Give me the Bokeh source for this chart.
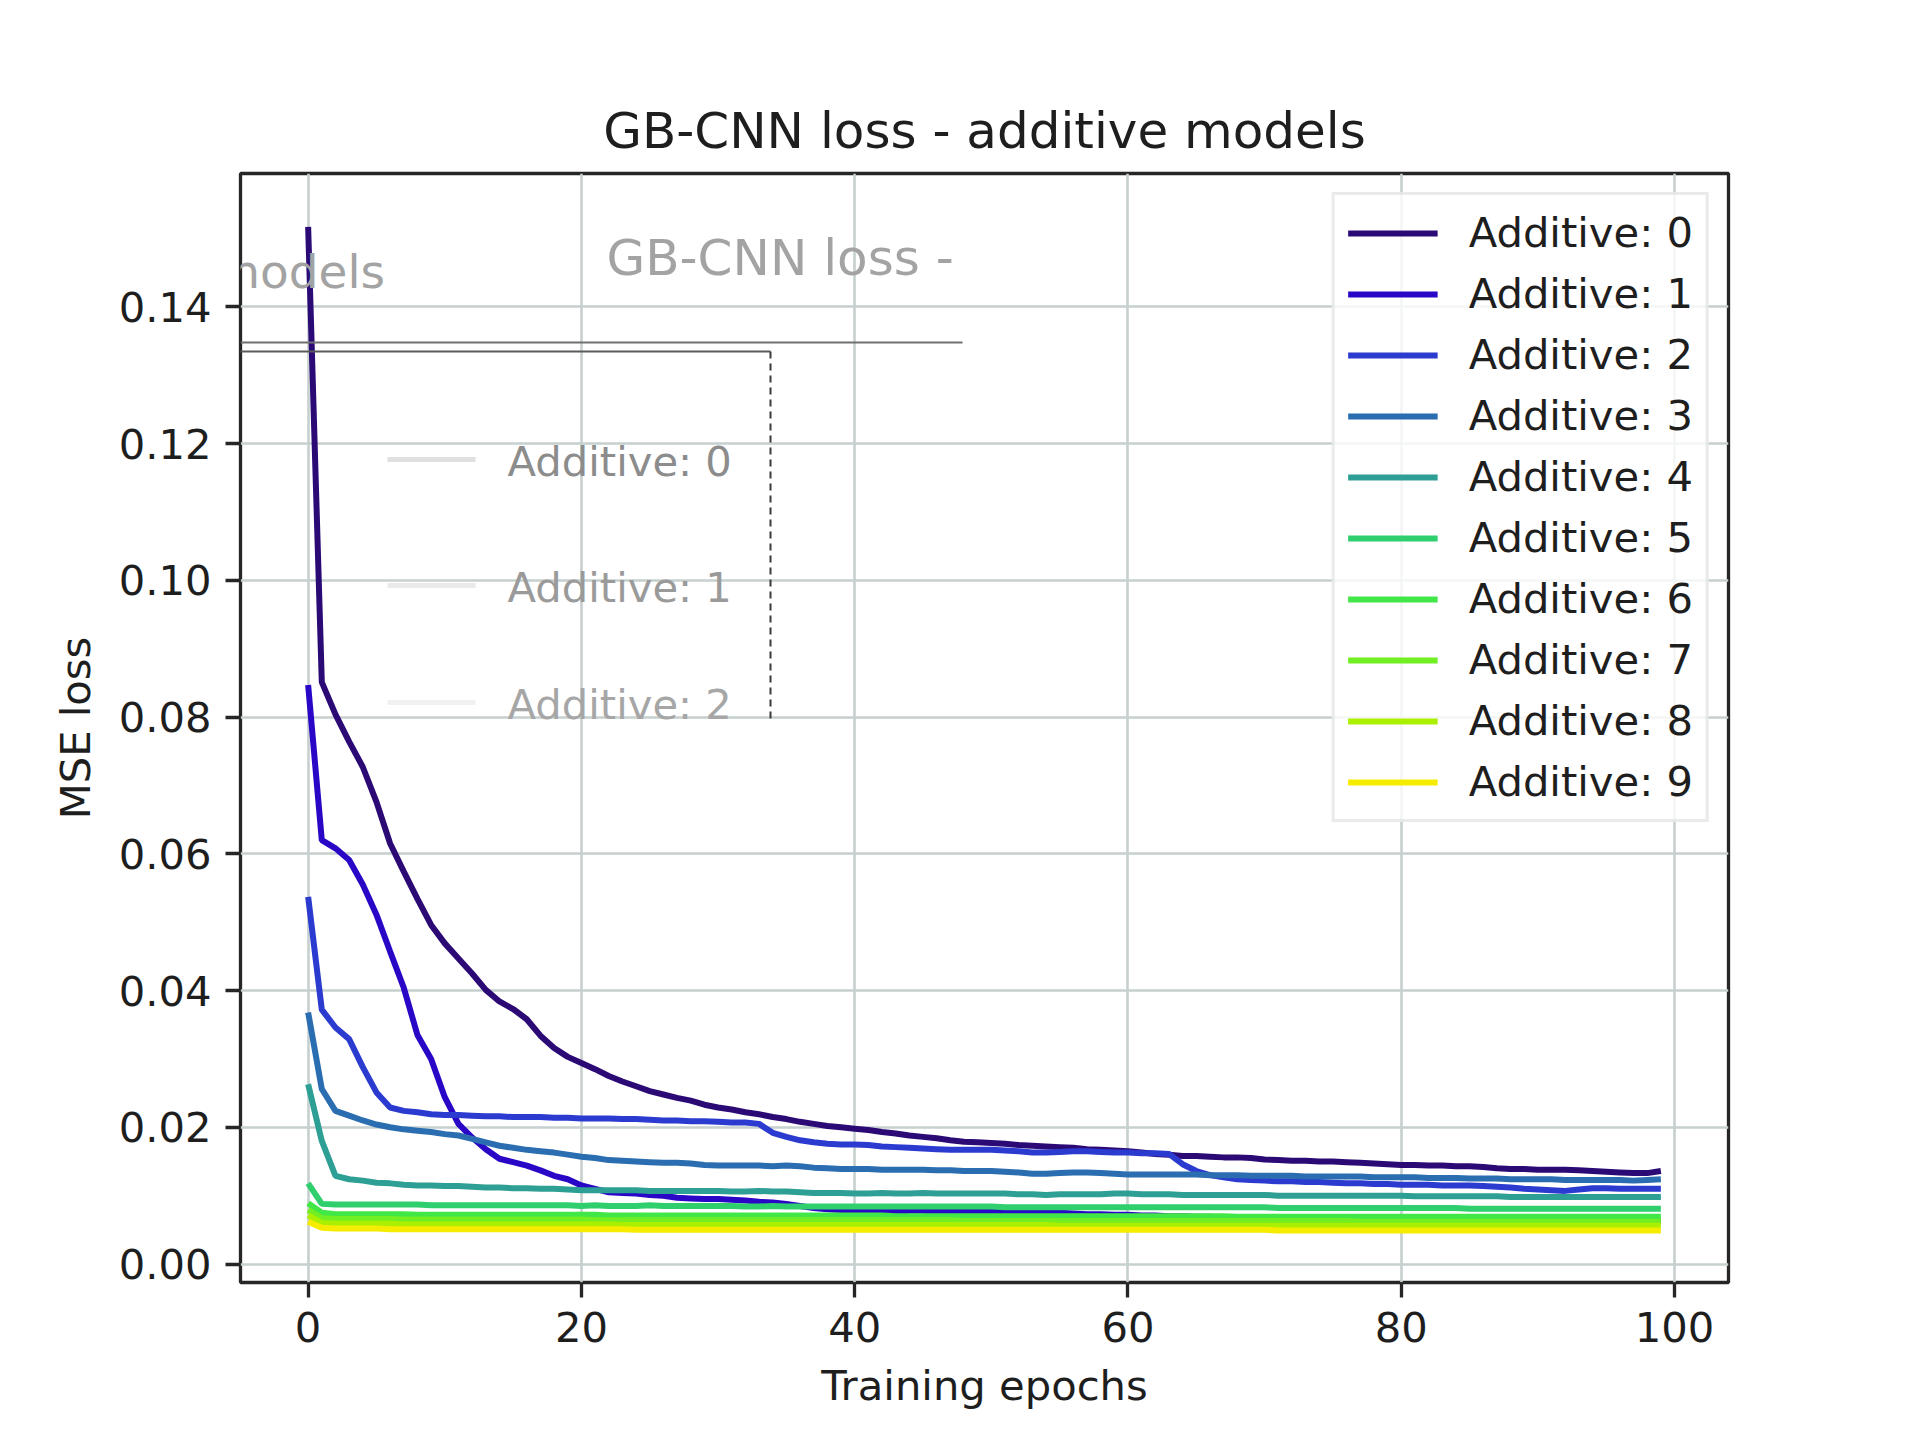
from bokeh.plotting import figure
from bokeh.models import Range1d, Label, Arrow, FixedTicker, PrintfTickFormatter
from bokeh.embed import file_html
from bokeh.resources import INLINE

# ---------------- data ----------------
epochs = list(range(100))

loss_0 = [0.1517, 0.0851, 0.0804, 0.0764, 0.0727, 0.0676, 0.0615, 0.0574, 0.0534, 0.0496,
          0.0469, 0.0447, 0.0425, 0.0401, 0.0384, 0.0373, 0.0358, 0.0334, 0.0316, 0.0303,
          0.0294, 0.0285, 0.0275, 0.0267, 0.0260, 0.0253, 0.0248, 0.0243, 0.0239, 0.0233,
          0.0229, 0.0226, 0.0222, 0.0219, 0.0215, 0.0212, 0.0208, 0.0205, 0.0202, 0.0200,
          0.0198, 0.0196, 0.0193, 0.0191, 0.0188, 0.0186, 0.0184, 0.0181, 0.0179, 0.0178,
          0.0177, 0.0176, 0.0174, 0.0173, 0.0172, 0.0171, 0.0170, 0.0168, 0.0167, 0.0166,
          0.0165, 0.0163, 0.0161, 0.0160, 0.0158, 0.0158, 0.0157, 0.0156, 0.0156, 0.0155,
          0.0153, 0.0152, 0.0151, 0.0151, 0.0150, 0.0150, 0.0149, 0.0148, 0.0147, 0.0146,
          0.0145, 0.0145, 0.0144, 0.0144, 0.0143, 0.0143, 0.0142, 0.0140, 0.0139, 0.0139,
          0.0138, 0.0138, 0.0138, 0.0137, 0.0136, 0.0135, 0.0134, 0.0133, 0.0133, 0.0136]

loss_1 = [0.0847, 0.0620, 0.0608, 0.0591, 0.0555, 0.0511, 0.0457, 0.0404, 0.0335, 0.0300,
          0.0244, 0.0205, 0.0185, 0.0168, 0.0154, 0.0149, 0.0144, 0.0137, 0.0129, 0.0124,
          0.0115, 0.0110, 0.0105, 0.0104, 0.0103, 0.0101, 0.0100, 0.0097, 0.0096, 0.0095,
          0.0095, 0.0094, 0.0093, 0.0091, 0.0090, 0.0088, 0.0085, 0.0082, 0.0080, 0.0079,
          0.0078, 0.0078, 0.0078, 0.0077, 0.0078, 0.0078, 0.0077, 0.0077, 0.0078, 0.0077,
          0.0077, 0.0076, 0.0076, 0.0076, 0.0075, 0.0075, 0.0074, 0.0073, 0.0073, 0.0072,
          0.0072, 0.0071, 0.0071, 0.0070, 0.0070, 0.0069, 0.0069, 0.0068, 0.0068, 0.0067,
          0.0066, 0.0066, 0.0066, 0.0067, 0.0066, 0.0066, 0.0065, 0.0066, 0.0066, 0.0065,
          0.0065, 0.0065, 0.0065, 0.0066, 0.0066, 0.0065, 0.0066, 0.0066, 0.0065, 0.0065,
          0.0064, 0.0064, 0.0064, 0.0064, 0.0063, 0.0064, 0.0064, 0.0063, 0.0063, 0.0063]

loss_2 = [0.0537, 0.0372, 0.0346, 0.0329, 0.0288, 0.0251, 0.0229, 0.0224, 0.0222, 0.0219,
          0.0218, 0.0218, 0.0217, 0.0216, 0.0216, 0.0215, 0.0215, 0.0215, 0.0214, 0.0214,
          0.0213, 0.0213, 0.0213, 0.0212, 0.0212, 0.0211, 0.0210, 0.0210, 0.0209, 0.0209,
          0.0208, 0.0207, 0.0207, 0.0205, 0.0192, 0.0186, 0.0181, 0.0178, 0.0176, 0.0175,
          0.0175, 0.0174, 0.0172, 0.0171, 0.0170, 0.0169, 0.0168, 0.0167, 0.0167, 0.0167,
          0.0167, 0.0166, 0.0165, 0.0163, 0.0163, 0.0164, 0.0165, 0.0165, 0.0164, 0.0163,
          0.0163, 0.0162, 0.0162, 0.0161, 0.0146, 0.0136, 0.0130, 0.0127, 0.0124, 0.0123,
          0.0122, 0.0121, 0.0121, 0.0120, 0.0120, 0.0119, 0.0118, 0.0118, 0.0117, 0.0117,
          0.0116, 0.0116, 0.0116, 0.0115, 0.0115, 0.0115, 0.0114, 0.0113, 0.0112, 0.0110,
          0.0109, 0.0108, 0.0107, 0.0109, 0.0111, 0.0111, 0.0110, 0.0110, 0.0110, 0.0110]

loss_3 = [0.0368, 0.0256, 0.0224, 0.0217, 0.0210, 0.0204, 0.0200, 0.0197, 0.0195, 0.0193,
          0.0190, 0.0188, 0.0183, 0.0178, 0.0173, 0.0170, 0.0167, 0.0165, 0.0163, 0.0160,
          0.0157, 0.0155, 0.0152, 0.0151, 0.0150, 0.0149, 0.0148, 0.0148, 0.0147, 0.0145,
          0.0144, 0.0144, 0.0144, 0.0144, 0.0143, 0.0144, 0.0143, 0.0141, 0.0140, 0.0139,
          0.0139, 0.0139, 0.0138, 0.0138, 0.0138, 0.0138, 0.0137, 0.0137, 0.0136, 0.0136,
          0.0136, 0.0135, 0.0134, 0.0132, 0.0132, 0.0133, 0.0134, 0.0134, 0.0133, 0.0132,
          0.0131, 0.0131, 0.0131, 0.0131, 0.0131, 0.0131, 0.0130, 0.0130, 0.0130, 0.0129,
          0.0129, 0.0129, 0.0129, 0.0128, 0.0128, 0.0128, 0.0128, 0.0128, 0.0127, 0.0127,
          0.0127, 0.0127, 0.0126, 0.0126, 0.0126, 0.0125, 0.0125, 0.0125, 0.0124, 0.0124,
          0.0124, 0.0124, 0.0123, 0.0123, 0.0123, 0.0123, 0.0123, 0.0122, 0.0123, 0.0124]

loss_4 = [0.0263, 0.0180, 0.0129, 0.0124, 0.0122, 0.0119, 0.0118, 0.0116, 0.0115, 0.0115,
          0.0114, 0.0114, 0.0113, 0.0112, 0.0112, 0.0111, 0.0111, 0.0110, 0.0110, 0.0109,
          0.0108, 0.0108, 0.0108, 0.0108, 0.0108, 0.0107, 0.0107, 0.0107, 0.0107, 0.0107,
          0.0107, 0.0106, 0.0106, 0.0107, 0.0106, 0.0106, 0.0105, 0.0104, 0.0104, 0.0104,
          0.0103, 0.0103, 0.0104, 0.0103, 0.0103, 0.0104, 0.0103, 0.0103, 0.0103, 0.0103,
          0.0103, 0.0103, 0.0102, 0.0102, 0.0101, 0.0102, 0.0102, 0.0102, 0.0102, 0.0103,
          0.0103, 0.0102, 0.0102, 0.0102, 0.0101, 0.0101, 0.0101, 0.0101, 0.0101, 0.0101,
          0.0101, 0.0100, 0.0100, 0.0100, 0.0100, 0.0100, 0.0100, 0.0100, 0.0100, 0.0100,
          0.0100, 0.0099, 0.0099, 0.0099, 0.0099, 0.0099, 0.0099, 0.0099, 0.0098, 0.0098,
          0.0098, 0.0098, 0.0098, 0.0098, 0.0098, 0.0098, 0.0098, 0.0098, 0.0098, 0.0098]

loss_5 = [0.0118, 0.0088, 0.0087, 0.0087, 0.0087, 0.0087, 0.0087, 0.0087, 0.0087, 0.0086,
          0.0086, 0.0086, 0.0086, 0.0086, 0.0086, 0.0086, 0.0086, 0.0086, 0.0086, 0.0086,
          0.0085, 0.0086, 0.0085, 0.0085, 0.0085, 0.0086, 0.0085, 0.0085, 0.0085, 0.0085,
          0.0085, 0.0085, 0.0084, 0.0084, 0.0085, 0.0084, 0.0084, 0.0084, 0.0084, 0.0084,
          0.0084, 0.0084, 0.0084, 0.0084, 0.0084, 0.0084, 0.0084, 0.0084, 0.0084, 0.0084,
          0.0084, 0.0083, 0.0083, 0.0083, 0.0083, 0.0083, 0.0083, 0.0083, 0.0083, 0.0083,
          0.0083, 0.0083, 0.0083, 0.0083, 0.0083, 0.0083, 0.0083, 0.0083, 0.0083, 0.0083,
          0.0083, 0.0082, 0.0082, 0.0082, 0.0082, 0.0082, 0.0082, 0.0082, 0.0082, 0.0082,
          0.0082, 0.0082, 0.0082, 0.0082, 0.0082, 0.0081, 0.0081, 0.0081, 0.0081, 0.0081,
          0.0081, 0.0081, 0.0081, 0.0081, 0.0081, 0.0081, 0.0081, 0.0081, 0.0081, 0.0081]

loss_6 = [0.0089, 0.0075, 0.0073, 0.0073, 0.0073, 0.0073, 0.0073, 0.0073, 0.0072, 0.0072,
          0.0072, 0.0072, 0.0072, 0.0072, 0.0072, 0.0072, 0.0072, 0.0072, 0.0072, 0.0072,
          0.0072, 0.0072, 0.0071, 0.0071, 0.0071, 0.0071, 0.0071, 0.0071, 0.0071, 0.0071,
          0.0071, 0.0071, 0.0071, 0.0071, 0.0071, 0.0071, 0.0071, 0.0071, 0.0071, 0.0071,
          0.0071, 0.0071, 0.0071, 0.0070, 0.0070, 0.0070, 0.0070, 0.0070, 0.0070, 0.0070,
          0.0070, 0.0070, 0.0070, 0.0070, 0.0070, 0.0070, 0.0070, 0.0070, 0.0070, 0.0070,
          0.0070, 0.0070, 0.0070, 0.0070, 0.0070, 0.0070, 0.0070, 0.0070, 0.0069, 0.0069,
          0.0069, 0.0069, 0.0069, 0.0069, 0.0069, 0.0069, 0.0069, 0.0069, 0.0069, 0.0069,
          0.0069, 0.0069, 0.0069, 0.0069, 0.0069, 0.0069, 0.0069, 0.0069, 0.0069, 0.0069,
          0.0069, 0.0069, 0.0069, 0.0069, 0.0069, 0.0069, 0.0069, 0.0069, 0.0069, 0.0069]

loss_7 = [0.0079, 0.0067, 0.0066, 0.0066, 0.0066, 0.0066, 0.0066, 0.0065, 0.0065, 0.0065,
          0.0065, 0.0065, 0.0065, 0.0065, 0.0065, 0.0065, 0.0065, 0.0065, 0.0065, 0.0065,
          0.0065, 0.0064, 0.0064, 0.0064, 0.0064, 0.0064, 0.0064, 0.0064, 0.0064, 0.0064,
          0.0064, 0.0064, 0.0064, 0.0064, 0.0064, 0.0064, 0.0064, 0.0064, 0.0064, 0.0064,
          0.0064, 0.0064, 0.0064, 0.0064, 0.0064, 0.0064, 0.0064, 0.0064, 0.0063, 0.0063,
          0.0063, 0.0063, 0.0063, 0.0063, 0.0063, 0.0063, 0.0063, 0.0063, 0.0063, 0.0063,
          0.0063, 0.0063, 0.0063, 0.0063, 0.0063, 0.0063, 0.0063, 0.0063, 0.0063, 0.0063,
          0.0063, 0.0063, 0.0063, 0.0063, 0.0063, 0.0063, 0.0063, 0.0062, 0.0062, 0.0062,
          0.0062, 0.0062, 0.0062, 0.0062, 0.0062, 0.0062, 0.0062, 0.0062, 0.0062, 0.0062,
          0.0062, 0.0062, 0.0062, 0.0062, 0.0062, 0.0062, 0.0062, 0.0062, 0.0062, 0.0062]

loss_8 = [0.0071, 0.0060, 0.0059, 0.0059, 0.0059, 0.0059, 0.0059, 0.0058, 0.0058, 0.0058,
          0.0058, 0.0058, 0.0058, 0.0058, 0.0058, 0.0058, 0.0058, 0.0058, 0.0058, 0.0058,
          0.0058, 0.0058, 0.0058, 0.0057, 0.0057, 0.0057, 0.0057, 0.0057, 0.0057, 0.0057,
          0.0057, 0.0057, 0.0057, 0.0057, 0.0057, 0.0057, 0.0057, 0.0057, 0.0057, 0.0057,
          0.0057, 0.0057, 0.0057, 0.0057, 0.0057, 0.0057, 0.0057, 0.0057, 0.0057, 0.0057,
          0.0057, 0.0057, 0.0057, 0.0057, 0.0057, 0.0056, 0.0056, 0.0056, 0.0056, 0.0056,
          0.0056, 0.0056, 0.0056, 0.0056, 0.0056, 0.0056, 0.0056, 0.0056, 0.0056, 0.0056,
          0.0056, 0.0056, 0.0056, 0.0056, 0.0056, 0.0056, 0.0056, 0.0056, 0.0056, 0.0056,
          0.0056, 0.0056, 0.0056, 0.0056, 0.0056, 0.0056, 0.0056, 0.0056, 0.0056, 0.0056,
          0.0056, 0.0056, 0.0056, 0.0056, 0.0056, 0.0056, 0.0056, 0.0056, 0.0056, 0.0056]

loss_9 = [0.0062, 0.0053, 0.0052, 0.0052, 0.0052, 0.0052, 0.0051, 0.0051, 0.0051, 0.0051,
          0.0051, 0.0051, 0.0051, 0.0051, 0.0051, 0.0051, 0.0051, 0.0051, 0.0051, 0.0051,
          0.0051, 0.0051, 0.0051, 0.0051, 0.0050, 0.0050, 0.0050, 0.0050, 0.0050, 0.0050,
          0.0050, 0.0050, 0.0050, 0.0050, 0.0050, 0.0050, 0.0050, 0.0050, 0.0050, 0.0050,
          0.0050, 0.0050, 0.0050, 0.0050, 0.0050, 0.0050, 0.0050, 0.0050, 0.0050, 0.0050,
          0.0050, 0.0050, 0.0050, 0.0050, 0.0050, 0.0050, 0.0050, 0.0050, 0.0050, 0.0050,
          0.0050, 0.0050, 0.0050, 0.0050, 0.0050, 0.0050, 0.0050, 0.0050, 0.0050, 0.0050,
          0.0050, 0.0049, 0.0049, 0.0049, 0.0049, 0.0049, 0.0049, 0.0049, 0.0049, 0.0049,
          0.0049, 0.0049, 0.0049, 0.0049, 0.0049, 0.0049, 0.0049, 0.0049, 0.0049, 0.0049,
          0.0049, 0.0049, 0.0049, 0.0049, 0.0049, 0.0049, 0.0049, 0.0049, 0.0049, 0.0049]

series = [loss_0, loss_1, loss_2, loss_3, loss_4, loss_5, loss_6, loss_7, loss_8, loss_9]
series_labels = ["Additive: 0", "Additive: 1", "Additive: 2", "Additive: 3", "Additive: 4",
                 "Additive: 5", "Additive: 6", "Additive: 7", "Additive: 8", "Additive: 9"]
series_colors = ["#2b0a76", "#2a07c6", "#2b3bcf", "#2a6db0", "#2e9f94",
                 "#2fcf6e", "#41e746", "#72ef22", "#abf000", "#f6ec00"]

x_ticks = [0, 20, 40, 60, 80, 100]
y_ticks = [0.00, 0.02, 0.04, 0.06, 0.08, 0.10, 0.12, 0.14]

title_text = "GB-CNN loss - additive models"
x_label = "Training epochs"
y_label = "MSE loss"

# faint duplicate ("ghost") texts that show through in the picture
ghost_title_a = "additive models"
ghost_title_b = "GB-CNN loss -"
ghost_legend_labels = ["Additive: 0", "Additive: 1", "Additive: 2"]

# ---------------- layout ----------------
FONT = "DejaVu Sans"
TICK_PX = "41.7px"
FRAME_L, FRAME_T, FRAME_W, FRAME_H = 240, 173, 1488, 1109
REF_LEFT, REF_BOTTOM = 240, 1282   # frame left / bottom in reference pixels


def scr(X, Y):
    """reference pixel -> frame-relative screen units"""
    return X - REF_LEFT, REF_BOTTOM - Y


p = figure(frame_width=FRAME_W, frame_height=FRAME_H,
           min_border_left=FRAME_L, min_border_right=176,
           min_border_top=FRAME_T, min_border_bottom=142,
           x_range=Range1d(-4.95, 103.95), y_range=Range1d(-0.0027, 0.1595),
           output_backend="svg", toolbar_location=None, title=title_text)

p.background_fill_color = "white"
p.border_fill_color = "white"
p.outline_line_color = "#262626"
p.outline_line_width = 3.3

p.title.align = "center"
p.title.text_font = FONT
p.title.text_font_size = "50px"
p.title.text_font_style = "normal"
p.title.text_color = "#1e1e1e"
p.title.standoff = 27

for ax in (p.xaxis[0], p.yaxis[0]):
    ax.axis_line_color = None
    ax.major_tick_out = 15
    ax.major_tick_in = 0
    ax.major_tick_line_width = 3.3
    ax.major_tick_line_color = "#262626"
    ax.minor_tick_line_color = None
    ax.major_label_text_font = FONT
    ax.major_label_text_font_size = TICK_PX
    ax.major_label_text_color = "#1e1e1e"
    ax.major_label_standoff = 14
    ax.axis_label_text_font = FONT
    ax.axis_label_text_font_size = TICK_PX
    ax.axis_label_text_font_style = "normal"
    ax.axis_label_text_color = "#1e1e1e"
    ax.axis_label_standoff = 16

p.xaxis[0].ticker = FixedTicker(ticks=x_ticks)
p.yaxis[0].ticker = FixedTicker(ticks=y_ticks)
p.yaxis[0].formatter = PrintfTickFormatter(format="%.2f")
p.xaxis[0].axis_label = x_label
p.yaxis[0].axis_label = y_label

for g in (p.xgrid[0], p.ygrid[0]):
    g.grid_line_color = "#c6d0cf"
    g.grid_line_width = 2.6

# ghost decorations (the part that falls inside the frame is what shows)
ghost_texts = [
    (ghost_title_a, 9, 271, "47px", "#a3a3a3", "left"),
    (ghost_title_b, 606, 257, "50px", "#a3a3a3", "left"),
    (ghost_legend_labels[0], 507, 461, TICK_PX, "#8c8c8c", "left"),
    (ghost_legend_labels[1], 507, 587, TICK_PX, "#9a9a9a", "left"),
    (ghost_legend_labels[2], 507, 704, TICK_PX, "#a6a6a6", "left"),
]
for txt, X, Y, size, col, align in ghost_texts:
    sx, sy = scr(X, Y)
    p.add_layout(Label(x=sx, y=sy, x_units="screen", y_units="screen", text=txt,
                       text_font=FONT, text_font_size=size, text_color=col,
                       text_align=align, text_baseline="middle", level="overlay"))

ghost_segments = [
    (240, 342, 962, 342, "#707070", 2, "solid"),
    (0, 351, 770, 351, "#5a5a5a", 2, "solid"),
    (770, 351, 770, 722, "#3a3a3a", 2, "7 5"),
    (236, 351, 236, 722, "#b0b0b0", 5, "6 6"),
    (387, 459, 475, 459, "#e0e0e0", 5, "solid"),
    (387, 585, 475, 585, "#eaeaea", 5, "solid"),
    (387, 702, 475, 702, "#f1f1f1", 5, "solid"),
]
for X0, Y0, X1, Y1, col, w, dash in ghost_segments:
    sx0, sy0 = scr(X0, Y0)
    sx1, sy1 = scr(X1, Y1)
    p.add_layout(Arrow(end=None, x_start=sx0, y_start=sy0, x_end=sx1, y_end=sy1,
                       start_units="screen", end_units="screen",
                       line_color=col, line_width=w, line_dash=dash, level="overlay"))

for ys, lab, col in zip(series, series_labels, series_colors):
    p.line(epochs, ys, line_color=col, line_width=6, legend_label=lab)

lg = p.legend[0]
lg.location = "top_right"
lg.margin = 19
lg.padding = 13
lg.spacing = 12
lg.glyph_width = 90
lg.glyph_height = 48
lg.label_height = 48
lg.label_standoff = 31
lg.label_text_font = FONT
lg.label_text_font_size = TICK_PX
lg.label_text_color = "#1e1e1e"
lg.border_line_color = "#d6d6d6"
lg.border_line_width = 3
lg.background_fill_color = "white"
lg.background_fill_alpha = 0.8

open("out.html", "w").write(file_html(p, INLINE))
